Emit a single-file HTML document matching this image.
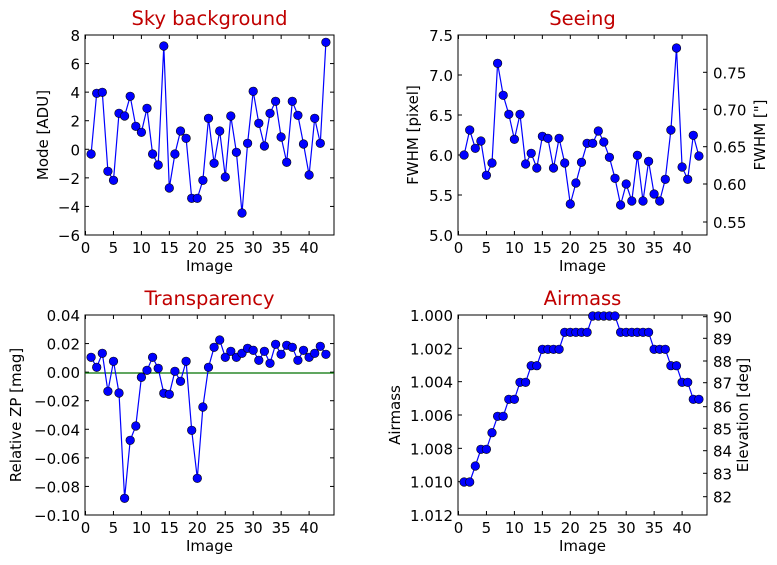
<!DOCTYPE html>
<html><head><meta charset="utf-8"><style>
html,body{margin:0;padding:0;background:#fff}
svg{display:block;font-family:"DejaVu Sans","Liberation Sans",sans-serif}
</style></head><body>
<svg id="s" width="777" height="565" xmlns="http://www.w3.org/2000/svg"></svg>
<script>
var s=document.getElementById('s'),h='';
function T(x,y,t,a,sz,col,rot){h+='<text x="'+x+'" y="'+y+'" font-size="'+(sz||15)+'" text-anchor="'+(a||'middle')+'" fill="'+(col||'#000')+'"'+(rot?' transform="rotate(-90 '+x+' '+y+')"':'')+'>'+t+'</text>';}
function L(x1,y1,x2,y2,c,w){h+='<line x1="'+x1+'" y1="'+y1+'" x2="'+x2+'" y2="'+y2+'" stroke="'+(c||'#000')+'" stroke-width="'+(w||1)+'"/>';}
function panel(x0,y0,title,ylab,yt,ylabx,ry,rylab,rylabx){
 var x1=x0+249,y1=y0+200;
 for(var v=0;v<=40;v+=5){var x=x0+0.5+v*5.59;L(x,y1,x,y1-4);L(x,y0,x,y0+4);T(x,y1+18,v);}
 for(var i=0;i<yt.length;i++){var y=yt[i][0];L(x0,y,x0+4,y);if(!ry)L(x1,y,x1-4,y);T(x0-5,y+6,yt[i][1],'end');}
 if(ry)for(var i=0;i<ry.length;i++){var y=ry[i][0];L(x1,y,x1-4,y);T(x1+6,y+6,ry[i][1],'start');}
 h+='<rect x="'+x0+'" y="'+y0+'" width="249" height="200" fill="none" stroke="#000" stroke-width="1"/>';
 T(x0+124.5,y0-10,title,'middle',19.5,'#c00000');
 T(x0+124.5,y1+36,'Image');
 T(ylabx,y0+100,ylab,'middle',15,'#000',1);
 if(rylab)T(rylabx,y0+100,rylab,'middle',15,'#000',1);
}
function series(x0,ox,oy,ys){var p=[];for(var i=0;i<ys.length;i++){p.push([(x0+0.5+(i+1)*5.59).toFixed(1),(oy+ys[i]/3).toFixed(1)]);}
 h+='<polyline fill="none" stroke="#0000ff" stroke-width="1.2" points="'+p.map(function(a){return a.join(',')}).join(' ')+'"/>';
 p.forEach(function(a){h+='<circle cx="'+a[0]+'" cy="'+a[1]+'" r="4.3" fill="#0000ff" stroke="#000" stroke-width="0.6"/>';});}
function lin(top,bot,vals){var out=[];for(var i=0;i<vals.length;i++){out.push([top+(bot-top)*i/(vals.length-1),vals[i]]);}return out;}
panel(85,35,'Sky background','Mode [ADU]',lin(35,235,['8','6','4','2','0','\u22122','\u22124','\u22126']),48);
series(85,80,30,[372,190,187,424,451,250,258,199,289,307,235,372,405,48,474,372,303,325,505,505,451,265,400,303,441,258,367,549,340,184,280,348,250,214,321,397,214,256,342,435,265,340,37]);
panel(458,35,'Seeing','FWHM [pixel]',lin(35,235,['7.5','7.0','6.5','6.0','5.5','5.0']),418,
 [[72.3,'0.75'],[109.3,'0.70'],[146.7,'0.65'],[184,'0.60'],[222,'0.55']],'FWHM ["]',765);
series(458,453,30,[375,300,355,333,436,399,100,196,253,328,253,402,370,414,319,325,414,325,399,522,459,397,340,340,303,336,382,445,525,462,513,376,513,394,492,513,448,300,54,411,448,316,378]);
panel(85,315,'Transparency','Relative ZP [mag]',lin(315,515,['0.04','0.02','0.00','\u22120.02','\u22120.04','\u22120.06','\u22120.08','\u22120.10']),21);
L(85,373,334,373,'#007000',1.2);
series(85,80,310,[142,172,130,244,154,249,565,391,348,202,181,142,175,250,253,184,214,154,361,505,291,172,112,90,142,124,142,130,115,121,151,124,160,103,133,106,112,151,121,142,130,109,133]);
var el=[];var ev=[316.7,338.3,361,382.7,406.7,428.3,450.7,473.3,496.7];for(var i=0;i<9;i++)el.push([ev[i],String(90-i)]);
panel(458,315,'Airmass','Airmass',lin(315,515,['1.000','1.002','1.004','1.006','1.008','1.010','1.012']),400,el,'Elevation [deg]',748);
series(458,453,310,[516,516,468,418,418,368,319,319,268,268,217,217,167,167,118,118,118,118,67,67,67,67,67,18,18,18,18,18,67,67,67,67,67,67,118,118,118,167,167,217,217,268,268]);
s.innerHTML=h;
</script>
</body></html>
